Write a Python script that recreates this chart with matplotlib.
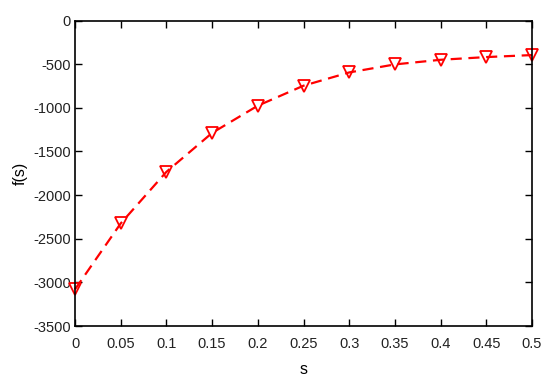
import matplotlib
matplotlib.use("Agg")
import matplotlib.pyplot as plt

s = [0, 0.05, 0.1, 0.15, 0.2, 0.25, 0.3, 0.35, 0.4, 0.45, 0.5]
fs = [-3080, -2325, -1734, -1288, -976, -747, -595, -503, -450, -419, -396]

xticks = [0, 0.05, 0.1, 0.15, 0.2, 0.25, 0.3, 0.35, 0.4, 0.45, 0.5]
xlabels = ["0", "0.05", "0.1", "0.15", "0.2", "0.25", "0.3", "0.35", "0.4", "0.45", "0.5"]
yticks = [-3500, -3000, -2500, -2000, -1500, -1000, -500, 0]

plt.rcParams["font.family"] = ["Liberation Sans", "DejaVu Sans"]
plt.rcParams["font.size"] = 10.5
plt.rcParams["axes.unicode_minus"] = False

fig = plt.figure(figsize=(5.5, 3.82), dpi=100)
ax = fig.add_axes([75 / 550, 1 - 326 / 382, (532 - 75) / 550, (326 - 20.5) / 382])

ax.plot(s, fs, color="red", linestyle=(0, (5, 3)), linewidth=1.6,
        marker="v", markersize=8, markerfacecolor="none",
        markeredgecolor="red", markeredgewidth=1.3, clip_on=False)

ax.set_xlim(0, 0.5)
ax.set_ylim(-3500, 0)
ax.set_xticks(xticks)
ax.set_xticklabels(xlabels)
ax.set_yticks(yticks)
ax.tick_params(direction="in", top=True, right=True, length=5, width=1,
               labelcolor="#222222")
ax.tick_params(axis="y", pad=3)
ax.tick_params(axis="x", pad=8)
for sp in ax.spines.values():
    sp.set_linewidth(1.2)

ax.set_xlabel("s", fontsize=11.5, labelpad=8)
ax.set_ylabel("f(s)", fontsize=11.5)
ax.yaxis.set_label_coords(-47 / 457, 0.5)

fig.savefig("out.png", dpi=100)
